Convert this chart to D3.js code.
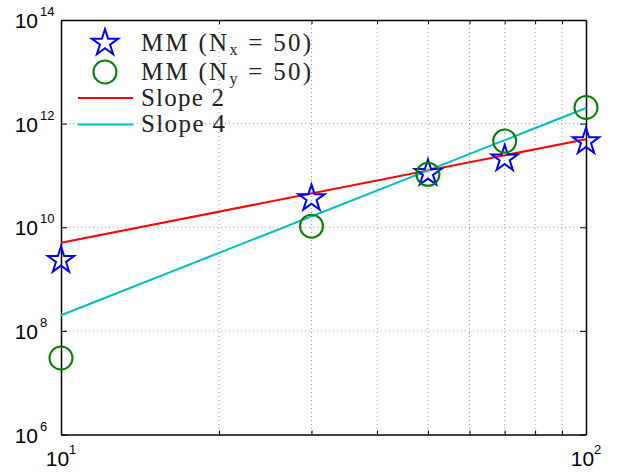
<!DOCTYPE html>
<html>
<head>
<meta charset="utf-8">
<script src="https://cdn.jsdelivr.net/npm/d3@7"></script>
<style>
  body { margin: 0; background: #fff; }
  svg { display: block; }
  .tick-lab { font-family: "Liberation Sans", Arial, sans-serif; fill: #000; }
  .leg { font-family: "Liberation Serif", "Times New Roman", serif; fill: #222; }
</style>
</head>
<body>
<svg id="chart" width="638" height="474"></svg>
<script>
// data
var xVals = [10, 30, 50, 70, 100];
var mmNx = [2.3e9, 3.6e10, 1.1e11, 2.1e11, 4.5e11];
var mmNy = [3e7, 1.05e10, 1.05e11, 4.6e11, 2.05e12];
var slopeX = [10, 100];
var slope2 = [5e9, 5e11];
var slope4 = [2e8, 2e12];
var xTickExp = [1, 2];
var yTickExp = [6, 8, 10, 12, 14];
var xGrid = [20, 30, 40, 50, 60, 70, 80, 90];

var svg = d3.select("#chart"),
    margin = {top: 20, left: 61},
    width = 525,
    height = 414.5;

var g = svg.append("g").attr("transform", "translate(" + margin.left + "," + margin.top + ")");

var x = d3.scaleLog().domain([10, 100]).range([0, width]);
var y = d3.scaleLog().domain([1e6, 1e14]).range([height, 0]);

// grid, dotted
g.append("g").selectAll("line").data(xGrid).enter().append("line")
  .attr("x1", function(d) { return x(d); }).attr("x2", function(d) { return x(d); })
  .attr("y1", 0).attr("y2", height)
  .attr("stroke", "#a0a0a0").attr("stroke-width", 1).attr("stroke-dasharray", "1,3");
g.append("g").selectAll("line").data(yTickExp.slice(1, -1)).enter().append("line")
  .attr("x1", 0).attr("x2", width)
  .attr("y1", function(d) { return y(Math.pow(10, d)); }).attr("y2", function(d) { return y(Math.pow(10, d)); })
  .attr("stroke", "#a0a0a0").attr("stroke-width", 1).attr("stroke-dasharray", "1,3");

// axes (ticks point inward, MATLAB style)
var yv = yTickExp.map(function(e) { return Math.pow(10, e); });
g.append("g").call(d3.axisLeft(y).tickValues(yv).tickSizeInner(-6).tickSizeOuter(0).tickFormat(""));
g.append("g").attr("transform", "translate(" + width + ",0)")
  .call(d3.axisRight(y).tickValues(yv).tickSizeInner(-6).tickSizeOuter(0).tickFormat(""));
g.append("g").attr("transform", "translate(0," + height + ")")
  .call(d3.axisBottom(x).tickValues(xGrid).tickSizeInner(-4).tickSizeOuter(0).tickFormat(""));
g.append("g")
  .call(d3.axisTop(x).tickValues(xGrid).tickSizeInner(-4).tickSizeOuter(0).tickFormat(""));
g.selectAll(".domain").attr("stroke", "#000").attr("stroke-width", 1.5);
g.selectAll(".tick line").attr("stroke", "#000");

// tick labels with superscripts
yTickExp.forEach(function(e) {
  g.append("text").attr("class", "tick-lab")
    .attr("x", -23).attr("y", y(Math.pow(10, e)) + 8)
    .attr("text-anchor", "end").style("font-size", "21px").text("10");
  g.append("text").attr("class", "tick-lab")
    .attr("x", -21).attr("y", y(Math.pow(10, e)) - 4)
    .style("font-size", "13px").text(e);
});
xTickExp.forEach(function(e) {
  var t = g.append("text").attr("class", "tick-lab")
    .attr("x", x(Math.pow(10, e))).attr("y", height + 31)
    .attr("text-anchor", "middle").style("font-size", "21px");
  t.append("tspan").text("10");
  t.append("tspan").attr("dy", -12).style("font-size", "13px").text(e);
});

// lines
var line = d3.line().x(function(d) { return x(d[0]); }).y(function(d) { return y(d[1]); });
g.append("path").datum(d3.zip(slopeX, slope2)).attr("d", line)
  .attr("fill", "none").attr("stroke", "#ff0000").attr("stroke-width", 2);
g.append("path").datum(d3.zip(slopeX, slope4)).attr("d", line)
  .attr("fill", "none").attr("stroke", "#00bfbf").attr("stroke-width", 2);

// markers
var star = d3.symbol().type(d3.symbolStar).size(215);
g.append("g").selectAll("path").data(d3.zip(xVals, mmNx)).enter().append("path")
  .attr("d", star)
  .attr("transform", function(d) { return "translate(" + x(d[0]) + "," + y(d[1]) + ")"; })
  .attr("fill", "none").attr("stroke", "#0000ff").attr("stroke-width", 2);
g.append("g").selectAll("circle").data(d3.zip(xVals, mmNy)).enter().append("circle")
  .attr("cx", function(d) { return x(d[0]); }).attr("cy", function(d) { return y(d[1]); })
  .attr("r", 11.5)
  .attr("fill", "none").attr("stroke", "#008000").attr("stroke-width", 2);

// legend (no box)
var leg = svg.append("g");
leg.append("path").attr("d", star).attr("transform", "translate(105,43)")
  .attr("fill", "none").attr("stroke", "#0000ff").attr("stroke-width", 2);
leg.append("circle").attr("cx", 105).attr("cy", 72).attr("r", 11.5)
  .attr("fill", "none").attr("stroke", "#008000").attr("stroke-width", 2);
leg.append("line").attr("x1", 78).attr("x2", 133).attr("y1", 98).attr("y2", 98)
  .attr("stroke", "#ff0000").attr("stroke-width", 2);
leg.append("line").attr("x1", 78).attr("x2", 133).attr("y1", 124.5).attr("y2", 124.5)
  .attr("stroke", "#00bfbf").attr("stroke-width", 2);

function mmLabel(yPos, sub) {
  var t = leg.append("text").attr("class", "leg").attr("x", 141).attr("y", yPos)
    .style("font-size", "25px").attr("textLength", 170).attr("lengthAdjust", "spacing");
  t.append("tspan").text("MM (N");
  t.append("tspan").attr("dy", 4).style("font-size", "16px").text(sub);
  t.append("tspan").attr("dy", -4).text(" = 50)");
}
mmLabel(51, "x");
mmLabel(80, "y");
leg.append("text").attr("class", "leg").attr("x", 141).attr("y", 106)
  .style("font-size", "25px").attr("textLength", 83).attr("lengthAdjust", "spacing").text("Slope 2");
leg.append("text").attr("class", "leg").attr("x", 141).attr("y", 132)
  .style("font-size", "25px").attr("textLength", 84).attr("lengthAdjust", "spacing").text("Slope 4");
</script>
</body>
</html>
